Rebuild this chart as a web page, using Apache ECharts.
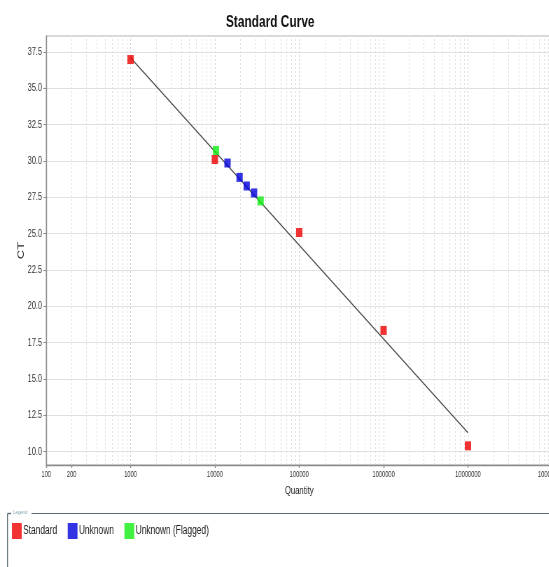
<!DOCTYPE html>
<html>
<head>
<meta charset="utf-8">
<script src="https://cdn.jsdelivr.net/npm/echarts@6/dist/echarts.min.js"></script>
<style>
html,body{margin:0;padding:0;background:#fff;overflow:hidden;width:549px;height:567px;}
#chart{width:789px;height:567px;transform:scaleX(0.7);transform-origin:0 0;}
</style>
</head>
<body>
<div id="chart"></div>
<script>
// ---- data ----
const quantityTicks = [100, 200, 1000, 10000, 100000, 1000000, 10000000, 100000000];
const ctTicks = [10.0, 12.5, 15.0, 17.5, 20.0, 22.5, 25.0, 27.5, 30.0, 32.5, 35.0, 37.5];
const gridDecades = [100, 1000, 10000, 100000, 1000000, 10000000];
const gridMultipliers = [1, 2, 3, 4, 5, 6, 7, 8, 9];

const standardQty = [1000, 10000, 100000, 1000000, 10000000];
const standardCt = [36.98, 30.10, 25.08, 18.34, 10.40];
const unknownQty = [14100, 19600, 23800, 29100];
const unknownCt = [29.86, 28.87, 28.28, 27.80];
const flaggedQty = [10300, 34800];
const flaggedCt = [30.72, 27.25];
const fitQty = [1000, 10000000];
const fitCt = [37.1, 11.3];

const FONT = '"Liberation Sans", Arial, sans-serif';

const pairs = (xs, ys) => xs.map((x, i) => [x, ys[i]]);

const vGrid = [];
gridDecades.forEach(d => gridMultipliers.forEach(m => vGrid.push({ xAxis: d * m, lineStyle: { color: m === 1 ? '#cfcfcf' : '#dedede', type: [2, 2], width: 1 } })));
const hGrid = ctTicks.map(v => ({ yAxis: v, lineStyle: { color: '#e0e0e0', type: 'solid', width: 1 } }));

const chart = echarts.init(document.getElementById('chart'), null, { renderer: 'canvas', width: 789, height: 567 });
chart.setOption({
  animation: false,
  backgroundColor: '#fff',
  textStyle: { fontFamily: FONT },
  grid: { left: 66, top: 36, right: 0, bottom: 102, containLabel: false, outerBoundsMode: 'none', show: true, borderColor: '#cdcdcd', borderWidth: 1.5, backgroundColor: '#fff' },
  xAxis: {
    type: 'log', logBase: 10, min: 100, max: 100000000,
    name: 'Quantity', nameLocation: 'middle', nameGap: 20, nameMoveOverlap: false,
    nameTextStyle: { fontFamily: FONT, fontSize: 11, color: '#222' },
    axisLine: { show: true, onZero: false, lineStyle: { color: '#8c8c8c', width: 1.4 } },
    axisTick: { show: true, length: 3, lineStyle: { color: '#8c8c8c', width: 1.4 }, customValues: quantityTicks },
    axisLabel: { customValues: quantityTicks, fontFamily: FONT, fontSize: 8.2, color: '#333', margin: 6, hideOverlap: false, formatter: v => String(Math.round(v)) },
    splitLine: { show: false }, minorTick: { show: false }
  },
  yAxis: {
    type: 'value', min: 9.08, max: 38.6,
    name: 'CT', nameLocation: 'middle', nameGap: 29, nameMoveOverlap: false,
    nameTextStyle: { fontFamily: FONT, fontSize: 13, color: '#222' },
    axisLine: { show: true, onZero: false, lineStyle: { color: '#8c8c8c', width: 1.4 } },
    axisTick: { show: true, length: 4, lineStyle: { color: '#8c8c8c' }, customValues: ctTicks },
    axisLabel: { customValues: ctTicks, fontFamily: FONT, fontSize: 10.5, color: '#333', margin: 6, formatter: v => v.toFixed(1) },
    splitLine: { show: false }
  },
  legend: {
    left: 12, top: 518, icon: 'rect', itemWidth: 14, itemHeight: 16, itemGap: 15,
    data: ['Standard', 'Unknown', 'Unknown (Flagged)'],
    textStyle: { fontFamily: FONT, fontSize: 12, color: '#222', padding: [0, 0, 0, -3] }
  },
  graphic: [
    { type: 'text', x: 386, y: 14, style: { text: 'Standard Curve', font: 'bold 17px ' + FONT, fill: '#111', textAlign: 'center' } },
    { type: 'line', shape: { x1: 10.7, y1: 513.5, x2: 16, y2: 513.5 }, style: { stroke: '#5d6f75', lineWidth: 1.4 } },
    { type: 'line', shape: { x1: 10.7, y1: 513.5, x2: 10.7, y2: 567 }, style: { stroke: '#5d6f75', lineWidth: 1.4 } },
    { type: 'line', shape: { x1: 45, y1: 513.5, x2: 789, y2: 513.5 }, style: { stroke: '#5d6f75', lineWidth: 1 } },
    { type: 'text', x: 19, y: 509, style: { text: 'Legend', font: '6px ' + FONT, fill: '#7f9fae' } }
  ],
  series: [
    {
      name: 'grid', type: 'line', data: [], silent: true, z: 0,
      markLine: { silent: true, z: 0, symbol: ['none', 'none'], label: { show: false }, animation: false, data: vGrid.concat(hGrid) }
    },
    {
      name: 'fit', type: 'line', data: pairs(fitQty, fitCt), showSymbol: false, symbol: 'none', z: 2,
      lineStyle: { color: '#4a4a4a', width: 1.4 }, silent: true
    },
    { name: 'Standard', type: 'scatter', data: pairs(standardQty, standardCt), symbol: 'rect', symbolSize: [9, 9], itemStyle: { color: '#ee0000' }, z: 3 },
    { name: 'Unknown', type: 'scatter', data: pairs(unknownQty, unknownCt), symbol: 'rect', symbolSize: [9, 9], itemStyle: { color: '#0000dd' }, z: 3 },
    { name: 'Unknown (Flagged)', type: 'scatter', data: pairs(flaggedQty, flaggedCt), symbol: 'rect', symbolSize: [9, 9], itemStyle: { color: '#11ee11' }, z: 3 }
  ]
});
</script>
</body>
</html>
